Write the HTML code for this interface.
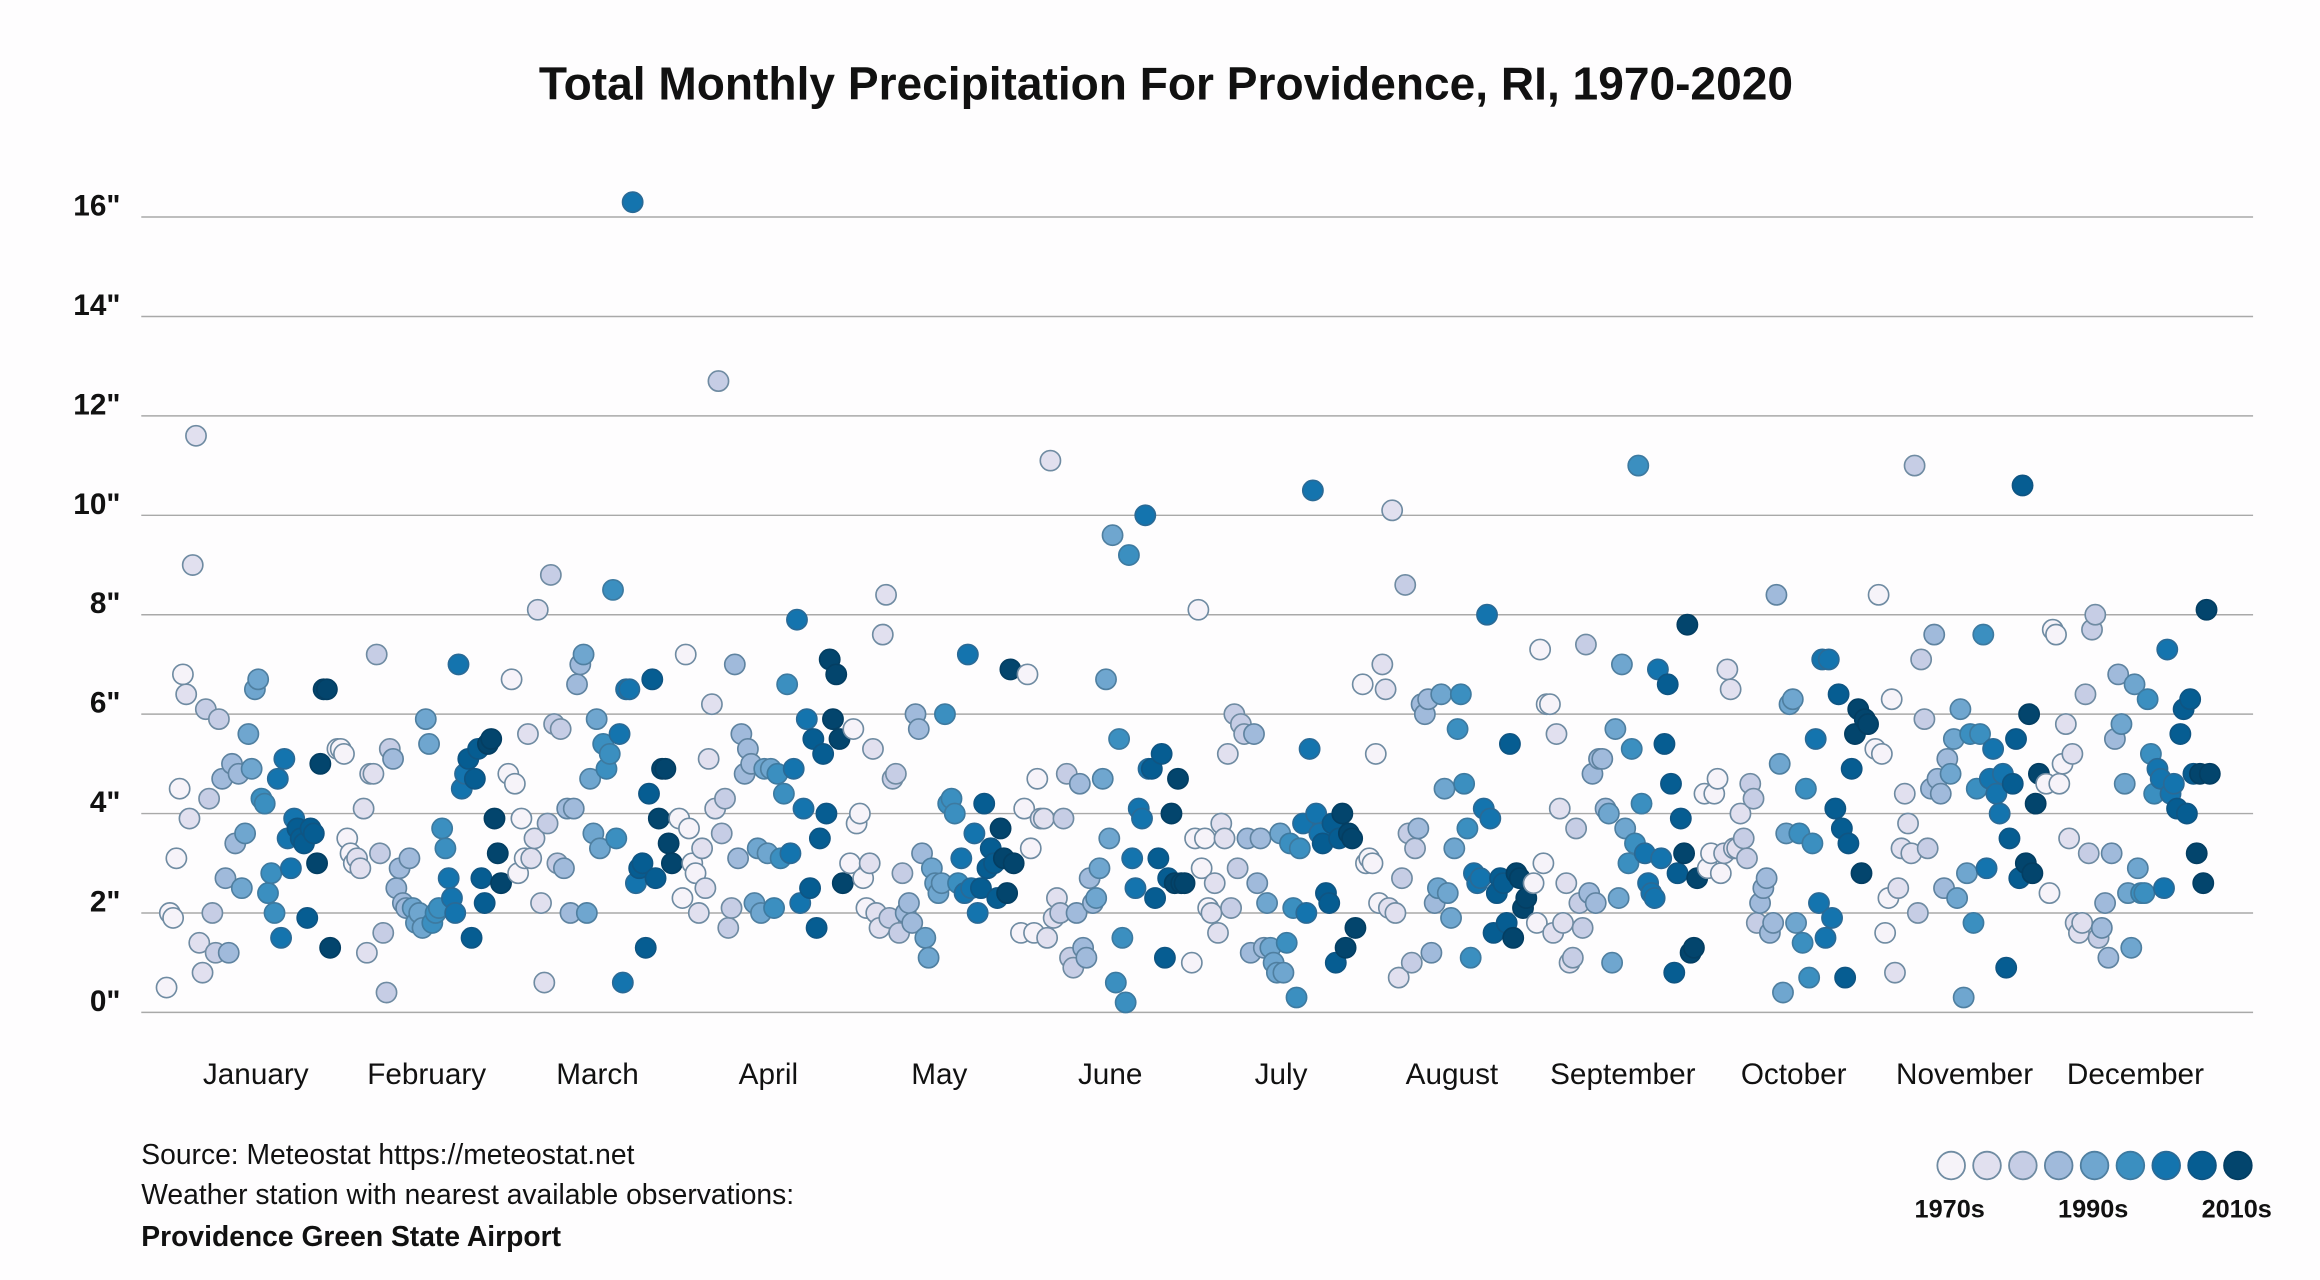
<!DOCTYPE html>
<html><head><meta charset="utf-8"><style>
html,body{margin:0;padding:0;background:#fefdfe;}
svg{display:block;}
text{font-family:"Liberation Sans",sans-serif;fill:#111;}
</style></head><body>
<svg id="chart" width="2320" height="1280" viewBox="0 0 1560 861" preserveAspectRatio="none" xmlns="http://www.w3.org/2000/svg">
<rect x="0" y="0" width="1560" height="861" fill="#fefdfe"/>
<text x="784" y="67" text-anchor="middle" font-size="31" font-weight="bold">Total Monthly Precipitation For Providence, RI, 1970-2020</text>
<g id="grid"></g>
<g id="ylabels"></g>
<g id="xlabels"></g>
<g id="dots"></g>
<text x="95" y="783" font-size="19" fill="#222">Source: Meteostat https://meteostat.net</text>
<text x="95" y="810" font-size="19" fill="#222">Weather station with nearest available observations:</text>
<text x="95" y="838" font-size="19" font-weight="bold">Providence Green State Airport</text>
<g id="legend"></g>
</svg>
<script>
const months = ["January","February","March","April","May","June","July","August","September","October","November","December"];
const yTicks = [0,2,4,6,8,10,12,14,16];
const legendLabels = ["1970s","1990s","2010s"];
const jan = [0.5,2.0,1.9,3.1,4.5,6.8,6.4,3.9,9.0,11.6,1.4,0.8,6.1,4.3,2.0,1.2,5.9,4.7,2.7,1.2,5.0,3.4,4.8,2.5,3.6,5.6,4.9,6.5,6.7,4.3,4.2,2.4,2.8,2.0,4.7,1.5,5.1,3.5,2.9,3.9,3.7,3.5,3.4,1.9,3.7,3.6,3.0,5.0,6.5,6.5,1.3];
const feb = [5.3,5.3,5.2,3.5,3.2,3.0,3.1,2.9,4.1,1.2,4.8,4.8,7.2,3.2,1.6,0.4,5.3,5.1,2.5,2.9,2.2,2.1,3.1,2.1,1.8,2.0,1.7,5.9,5.4,1.8,2.0,2.1,3.7,3.3,2.7,2.3,2.0,7.0,4.5,4.8,5.1,1.5,4.7,5.3,2.7,2.2,5.4,5.5,3.9,3.2,2.6];
const mar = [4.8,6.7,4.6,2.8,3.9,3.1,5.6,3.1,3.5,8.1,2.2,0.6,3.8,8.8,5.8,3.0,5.7,2.9,4.1,2.0,4.1,6.6,7.0,7.2,2.0,4.7,3.6,5.9,3.3,5.4,4.9,5.2,8.5,3.5,5.6,0.6,6.5,6.5,16.3,2.6,2.9,3.0,1.3,4.4,6.7,2.7,3.9,4.9,4.9,3.4,3.0];
const apr = [3.9,2.3,7.2,3.7,3.0,2.8,2.0,3.3,2.5,5.1,6.2,4.1,12.7,3.6,4.3,1.7,2.1,7.0,3.1,5.6,4.8,5.3,5.0,2.2,3.3,2.0,4.9,3.2,4.9,2.1,4.8,3.1,4.4,6.6,3.2,4.9,7.9,2.2,4.1,5.9,2.5,5.5,1.7,3.5,5.2,4.0,7.1,5.9,6.8,5.5,2.6];
const may = [3.0,5.7,3.8,4.0,2.7,2.1,3.0,5.3,2.0,1.7,7.6,8.4,1.9,4.7,4.8,1.6,2.8,2.0,2.2,1.8,6.0,5.7,3.2,1.5,1.1,2.9,2.6,2.4,2.6,6.0,4.2,4.3,4.0,2.6,3.1,2.4,7.2,2.5,3.6,2.0,2.5,4.2,2.9,3.3,3.0,2.3,3.7,3.1,2.4,6.9,3.0];
const jun = [1.6,4.1,6.8,3.3,1.6,4.7,3.9,3.9,1.5,11.1,1.9,2.3,2.0,3.9,4.8,1.1,0.9,2.0,4.6,1.3,1.1,2.7,2.2,2.3,2.9,4.7,6.7,3.5,9.6,0.6,5.5,1.5,0.2,9.2,3.1,2.5,4.1,3.9,10.0,4.9,4.9,2.3,3.1,5.2,1.1,2.7,4.0,2.6,4.7,2.6,2.6];
const jul = [1.0,3.5,8.1,2.9,3.5,2.1,2.0,2.6,1.6,3.8,3.5,5.2,2.1,6.0,2.9,5.8,5.6,3.5,1.2,5.6,2.6,3.5,1.3,2.2,1.3,1.0,0.8,3.6,0.8,1.4,3.4,2.1,0.3,3.3,3.8,2.0,5.3,10.5,4.0,3.6,3.4,2.4,2.2,3.8,1.0,3.5,4.0,1.3,3.6,3.5,1.7];
const aug = [6.6,3.0,3.1,3.0,5.2,2.2,7.0,6.5,2.1,10.1,2.0,0.7,2.7,8.6,3.6,1.0,3.3,3.7,6.2,6.0,6.3,1.2,2.2,2.5,6.4,4.5,2.4,1.9,3.3,5.7,6.4,4.6,3.7,1.1,2.8,2.6,2.7,4.1,8.0,3.9,1.6,2.4,2.7,2.6,1.8,5.4,1.5,2.8,2.7,2.1,2.3];
const sep = [2.6,1.8,7.3,3.0,6.2,6.2,1.6,5.6,4.1,1.8,2.6,1.0,1.1,3.7,2.2,1.7,7.4,2.4,4.8,2.2,5.1,5.1,4.1,4.0,1.0,5.7,2.3,7.0,3.7,3.0,5.3,3.4,11.0,4.2,3.2,2.6,2.4,2.3,6.9,3.1,5.4,6.6,4.6,0.8,2.8,3.9,3.2,7.8,1.2,1.3,2.7];
const oct = [4.4,2.9,3.2,4.4,4.7,2.8,3.2,6.9,6.5,3.3,3.3,4.0,3.5,3.1,4.6,4.3,1.8,2.2,2.5,2.7,1.6,1.8,8.4,5.0,0.4,3.6,6.2,6.3,1.8,3.6,1.4,4.5,0.7,3.4,5.5,2.2,7.1,1.5,7.1,1.9,4.1,6.4,3.7,0.7,3.4,4.9,5.6,6.1,2.8,5.9,5.8];
const nov = [5.3,8.4,5.2,1.6,2.3,6.3,0.8,2.5,3.3,4.4,3.8,3.2,11.0,2.0,7.1,5.9,3.3,4.5,7.6,4.7,4.4,2.5,5.1,4.8,5.5,2.3,6.1,0.3,2.8,5.6,1.8,4.5,5.6,7.6,2.9,4.7,5.3,4.4,4.0,4.8,0.9,3.5,4.6,5.5,2.7,10.6,3.0,6.0,2.8,4.2,4.8];
const dec = [4.6,2.4,7.7,7.6,4.6,5.0,5.8,3.5,5.2,1.8,1.6,1.8,6.4,3.2,7.7,8.0,1.5,1.7,2.2,1.1,3.2,5.5,6.8,5.8,4.6,2.4,1.3,6.6,2.9,2.4,2.4,6.3,5.2,4.4,4.9,4.7,2.5,7.3,4.4,4.6,4.1,5.6,6.1,4.0,6.3,4.8,3.2,4.8,2.6,8.1,4.8];

const series = [jan,feb,mar,apr,may,jun,jul,aug,sep,oct,nov,dec];
const shades = ["#f6f3f9","#e1e0ef","#c6cde5","#a0badb","#6fa6cf","#3b8fc0","#1474ae","#065d92","#03456d"];
const strokes = ["#6f8ba2","#6f8ba2","#6f8ba2","#5f83a0","#4f7fa0","#3d7aa0","#2a6a96","#0f5583","#043e62"];
const NS = "http://www.w3.org/2000/svg";
const yScale = v => 681 - v * (535 / 16);
const monthCenter = m => 172 + m * 114.9;
const xScale = (m, i, n) => monthCenter(m) - 60 + i * (110 / (n - 1));

function mk(tag, attrs, parent) {
  const el = document.createElementNS(NS, tag);
  for (const k in attrs) el.setAttribute(k, attrs[k]);
  parent.appendChild(el);
  return el;
}
const grid = document.getElementById('grid');
const yl = document.getElementById('ylabels');
yTicks.forEach(t => {
  const ln = mk('line', {x1: 95, x2: 1515, y1: yScale(t), y2: yScale(t), stroke: '#a9a9a9', 'stroke-width': 1}, grid);
  
  
  const tx = mk('text', {x: 81, y: yScale(t) - 1, 'text-anchor': 'end', 'font-size': 20, 'font-weight': 'bold'}, yl);
  tx.textContent = t + '"';
  
  
});
const xl = document.getElementById('xlabels');
months.forEach((m, i) => {
  const tx = mk('text', {x: monthCenter(i), y: 729, 'text-anchor': 'middle', 'font-size': 20}, xl);
  tx.textContent = m;
  
  
});
const dots = document.getElementById('dots');
series.forEach((arr, m) => {
  arr.forEach((v, i) => {
    const s = Math.min(8, Math.floor(i * 9 / arr.length));
    const c = mk('circle', {cx: xScale(m, i, arr.length), cy: yScale(v), r: 6.8, fill: shades[s], stroke: strokes[s], 'stroke-width': 1.1}, dots);
    
    
  });
});
const lg = document.getElementById('legend');
shades.forEach((c, i) => {
  const el = mk('circle', {cx: 1312 + i * 24.1, cy: 784, r: 9.3, fill: c, stroke: strokes[i], 'stroke-width': 1.2}, lg);
  
  
});
legendLabels.forEach((l, i) => {
  const tx = mk('text', {x: 1311 + i * 96.5, y: 819, 'text-anchor': 'middle', 'font-size': 17, 'font-weight': 'bold'}, lg);
  tx.textContent = l;
  
  
});
</script>
</body></html>
